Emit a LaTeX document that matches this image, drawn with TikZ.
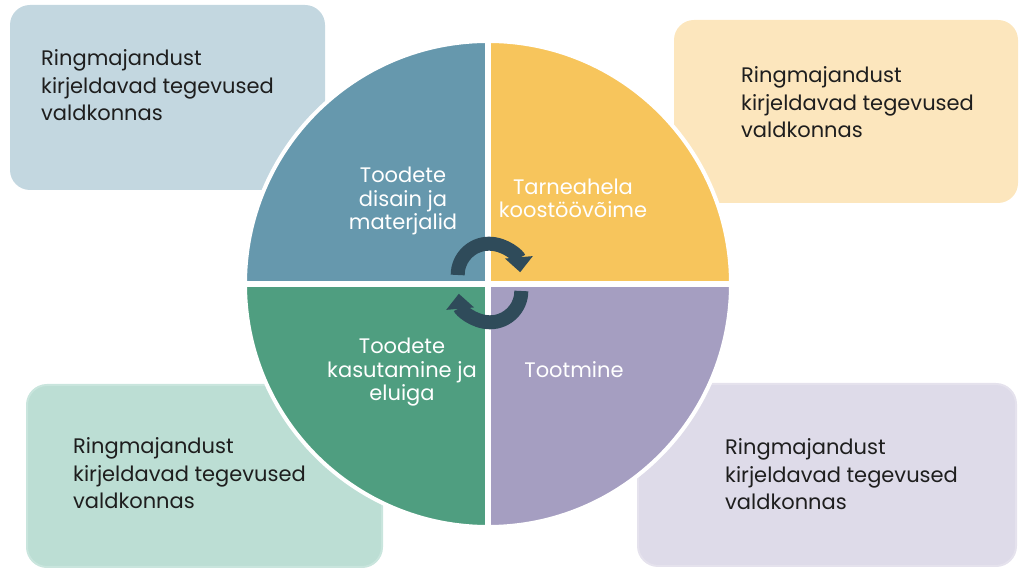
\documentclass[tikz,border=0pt]{standalone}
\usepackage{fontspec}
\setmainfont{Poppins}
\usetikzlibrary{arrows.meta}
\definecolor{tlbox}{HTML}{C3D7E0}
\definecolor{trbox}{HTML}{FCE6BD}
\definecolor{blbox}{HTML}{BCDED4}
\definecolor{brbox}{HTML}{DEDBE9}
\definecolor{tlq}{HTML}{6698AD}
\definecolor{trq}{HTML}{F7C55C}
\definecolor{blq}{HTML}{4F9E80}
\definecolor{brq}{HTML}{A59EC1}
\definecolor{arrowcol}{HTML}{2F4B5A}
\definecolor{txtdark}{HTML}{1E1E1E}
\begin{document}
\begin{tikzpicture}[x=1pt,y=1pt,
  bgbox/.style={rounded corners=20pt, inner sep=0, outer sep=0},
  boxtext/.style={align=left, anchor=base west, font=\fontsize{21}{27.5}\selectfont, text=txtdark, inner sep=0},
  quadtext/.style={align=center, anchor=base, font=\fontsize{21}{23.5}\selectfont, text=white, inner sep=0},
  cyc/.style={line width=14pt, draw=arrowcol, -{Triangle[length=15pt,width=27pt]}}]
\useasboundingbox (0,0) rectangle (1019,569);
% background boxes
\node[bgbox, fill=tlbox, minimum width=315, minimum height=185] (btl) at (167.5,471.5) {};
\node[bgbox, fill=trbox, minimum width=344, minimum height=183] (btr) at (846,457.5) {};
\node[bgbox, fill=blbox, draw=blbox!80!white, line width=2pt, minimum width=355, minimum height=182] (bbl) at (204.5,93) {};
\node[bgbox, fill=brbox, draw=brbox!80!white, line width=2pt, minimum width=378, minimum height=182] (bbr) at (827,94) {};
% box texts (anchored at last line's baseline)
\node[boxtext] (ttl) at (41,448) {Ringmajandust\\kirjeldavad tegevused\\valdkonnas};
\node[boxtext] (ttr) at (741,431) {Ringmajandust\\kirjeldavad tegevused\\valdkonnas};
\node[boxtext] (tbl) at (73,60) {Ringmajandust\\kirjeldavad tegevused\\valdkonnas};
\node[boxtext] (tbr) at (725,59) {Ringmajandust\\kirjeldavad tegevused\\valdkonnas};
% circle quadrants
\coordinate (c) at (488,285);
\fill[tlq] (c) -- +(180:243) arc[start angle=180, end angle=90, radius=243] -- cycle;
\fill[trq] (c) -- +(90:243) arc[start angle=90, end angle=0, radius=243] -- cycle;
\fill[brq] (c) -- +(0:243) arc[start angle=0, end angle=-90, radius=243] -- cycle;
\fill[blq] (c) -- +(-90:243) arc[start angle=-90, end angle=-180, radius=243] -- cycle;
\draw[white, line width=4pt] (c) circle[radius=243];
\draw[white, line width=6pt] (c) +(-245,0) -- +(245,0);
\draw[white, line width=6pt] (c) +(0,-245) -- +(0,245);
% quadrant texts
\node[quadtext] (q1) at (403,339) {Toodete\\disain ja\\materjalid};
\node[quadtext] (q2) at (573,351) {Tarneahela\\koostöövõime};
\node[quadtext] (q3) at (574,191) {Tootmine};
\node[quadtext] (q4) at (402,168) {Toodete\\kasutamine ja\\eluiga};
% cycle arrows
\coordinate (a1) at (489,294);
\coordinate (a2) at (490,278);
\draw[cyc] (a1) +(180:31.3) arc[start angle=180, end angle=5, radius=31.3];
\draw[cyc] (a2) +(0:31.3) arc[start angle=0, end angle=-175, radius=31.3];
\end{tikzpicture}
\end{document}
